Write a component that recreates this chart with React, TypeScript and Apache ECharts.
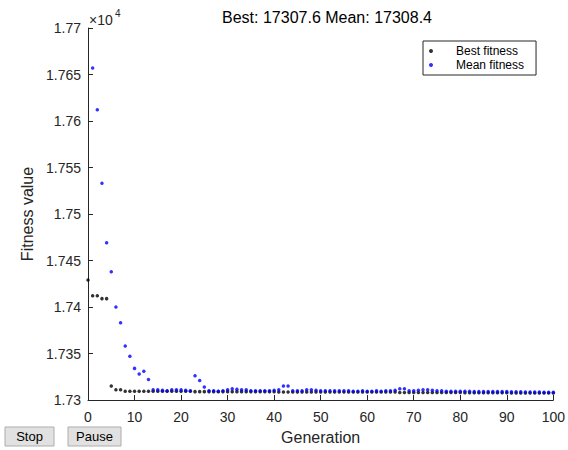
import React, { useEffect, useRef } from "react";
import * as echarts from "echarts";

const generations: number[] = Array.from({ length: 101 }, (_, i) => i);

const bestFitness: number[] = [
  17429, 17412, 17412, 17409, 17409, 17315, 17311, 17311, 17309.5, 17309.5,
  17309.5, 17309.5, 17309.5, 17309.5, 17309.5, 17309.5, 17309.5, 17309.5, 17309.5, 17309.5,
  17309.5, 17309.5, 17309.5, 17309, 17309, 17309, 17309, 17309, 17309, 17309,
  17309, 17309, 17309, 17309, 17309, 17309, 17309, 17309, 17309, 17309,
  17309, 17308.5, 17308.5, 17308.5, 17308.5, 17308.5, 17308.5, 17308.5, 17308.5, 17308.5,
  17308.5, 17308.5, 17308.5, 17308.5, 17308.5, 17308.5, 17308.5, 17308.5, 17308.5, 17308.5,
  17308.5, 17308.5, 17308.5, 17308.5, 17308.5, 17308.5, 17308.5, 17308, 17308, 17308,
  17308, 17308, 17308, 17308, 17308, 17308, 17308, 17308, 17308, 17308,
  17308, 17307.8, 17307.8, 17307.8, 17307.8, 17307.8, 17307.8, 17307.8, 17307.8, 17307.8,
  17307.8, 17307.6, 17307.6, 17307.6, 17307.6, 17307.6, 17307.6, 17307.6, 17307.6, 17307.6,
  17307.6,
];

const meanFitness: (number | null)[] = [
  null, 17657, 17612, 17533, 17469, 17438, 17400, 17383, 17358, 17347,
  17334, 17328, 17331, 17322, 17311, 17311, 17310.5, 17310, 17311, 17311,
  17311, 17310.5, 17310, 17326, 17321, 17314, 17310, 17310, 17309.5, 17310,
  17311, 17312, 17311.5, 17311, 17311, 17310, 17310, 17310, 17310, 17310,
  17310.5, 17311, 17315, 17315, 17310, 17310, 17310, 17311, 17311, 17310.5,
  17310, 17310, 17310, 17310, 17310, 17310, 17310, 17309.5, 17309.5, 17310,
  17309.5, 17309.5, 17310, 17309.5, 17310, 17310, 17310.5, 17312, 17312, 17310,
  17310, 17310.5, 17311, 17311, 17310.5, 17310, 17310, 17309.5, 17309.5, 17309.5,
  17309.5, 17309.5, 17309.5, 17309, 17309, 17309, 17309, 17309, 17309, 17309,
  17309, 17308.8, 17308.8, 17308.8, 17308.6, 17308.6, 17308.6, 17308.5, 17308.4, 17308.4,
  17308.4,
];

const titleText = "Best: 17307.6 Mean: 17308.4";
const seriesNames = ["Best fitness", "Mean fitness"];
const FONT = "'Liberation Sans', Arial, sans-serif";
const INK = "#262626";

export default function App() {
  const ref = useRef<HTMLDivElement>(null);

  useEffect(() => {
    document.body.style.margin = "0";
    if (!ref.current) return;
    const chart = echarts.init(ref.current, null, { renderer: "svg" });

    const bestData = generations.map((g, i) => [g, bestFitness[i]]);
    const meanData = generations
      .map((g, i) => [g, meanFitness[i]])
      .filter((p) => p[1] !== null);

    const button = (x: number, w: number, label: string) => ({
      type: "group",
      children: [
        {
          type: "rect",
          shape: { x, y: 427, width: w, height: 19 },
          style: { fill: "#e1e1e1", stroke: "#adadad", lineWidth: 1 },
        },
        {
          type: "text",
          x: x + w / 2,
          y: 436.5,
          style: {
            text: label,
            fontSize: 13,
            fontFamily: FONT,
            fill: "#000",
            align: "center",
            verticalAlign: "middle",
          },
        },
      ],
    });

    chart.setOption({
      animation: false,
      backgroundColor: "#ffffff",
      textStyle: { fontFamily: FONT },
      title: {
        text: titleText,
        left: 322,
        top: 4,
        textAlign: "center",
        textStyle: { fontSize: 16, fontWeight: "normal", color: "#000", fontFamily: FONT },
      },
      legend: {
        data: seriesNames,
        orient: "vertical",
        left: 423,
        top: 41,
        icon: "circle",
        itemWidth: 40,
        itemHeight: 4,
        itemGap: 2,
        padding: [4, 12, 4, 6],
        borderColor: INK,
        borderWidth: 1,
        textStyle: { fontSize: 12, color: "#000", fontFamily: FONT },
      },
      grid: { left: 88, right: 12, top: 28, bottom: 49 },
      xAxis: {
        type: "value",
        min: 0,
        max: 100,
        interval: 10,
        name: "Generation",
        nameLocation: "middle",
        nameGap: 29,
        nameTextStyle: { fontSize: 16, color: INK, fontFamily: FONT },
        axisLine: { lineStyle: { color: INK, width: 1 } },
        axisTick: { inside: true, length: 5, lineStyle: { color: INK } },
        axisLabel: { color: INK, fontSize: 14, margin: 10, fontFamily: FONT },
        splitLine: { show: false },
      },
      yAxis: {
        type: "value",
        min: 17300,
        max: 17700,
        interval: 50,
        name: "Fitness value",
        nameLocation: "middle",
        nameGap: 48,
        nameTextStyle: { fontSize: 16, color: INK, fontFamily: FONT },
        axisLine: { show: true, lineStyle: { color: INK, width: 1 } },
        axisTick: { show: true, inside: true, length: 5, lineStyle: { color: INK } },
        axisLabel: {
          color: INK,
          fontSize: 14,
          margin: 7,
          fontFamily: FONT,
          formatter: (v: number) => String(parseFloat((v / 10000).toFixed(4))),
        },
        splitLine: { show: false },
      },
      series: [
        {
          name: seriesNames[0],
          type: "scatter",
          data: bestData,
          symbol: "circle",
          symbolSize: 3.5,
          itemStyle: { color: "#000000" },
          clip: true,
          silent: true,
        },
        {
          name: seriesNames[1],
          type: "scatter",
          data: meanData,
          symbol: "circle",
          symbolSize: 3.5,
          itemStyle: { color: "#0000ff" },
          clip: true,
          silent: true,
        },
      ],
      graphic: [
        {
          type: "text",
          left: 89,
          top: 13,
          style: { text: "×10", fontSize: 14, fill: INK, fontFamily: FONT },
        },
        {
          type: "text",
          left: 115,
          top: 8,
          style: { text: "4", fontSize: 10, fill: INK, fontFamily: FONT },
        },
        button(5, 49, "Stop"),
        button(68, 53, "Pause"),
      ],
    });

    return () => chart.dispose();
  }, []);

  return <div ref={ref} style={{ width: 568, height: 450 }} />;
}
